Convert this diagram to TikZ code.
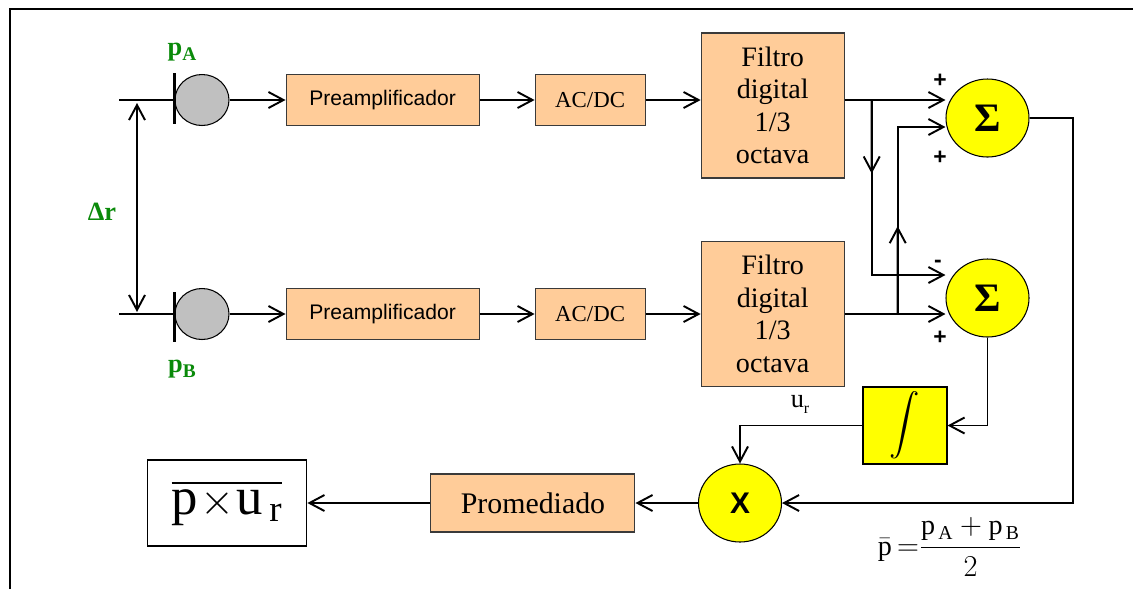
\documentclass[tikz,border=0pt]{standalone}
\usepackage{amsmath}
\usepackage{fontspec}
\setmainfont{Liberation Serif}
\setsansfont{Liberation Sans}
\usepackage{tikz}
\usetikzlibrary{arrows.meta,positioning,shapes.geometric,calc}
\definecolor{peach}{HTML}{FFCC99}
\definecolor{sunyellow}{HTML}{FFFF00}
\definecolor{micgray}{HTML}{C0C0C0}
\definecolor{labgreen}{HTML}{0A8A0A}
\definecolor{edge}{HTML}{3A3A3A}
\newcommand{\subtxt}[1]{\raisebox{-0.45ex}{\fontsize{11}{13}\selectfont #1}}
\tikzset{
  block/.style={draw=edge,line width=0.6pt,fill=peach,align=center,
    inner sep=2pt,minimum height=10.2mm},
  preamp/.style={block,minimum width=38.6mm,font=\sffamily\fontsize{12}{14}\selectfont},
  converter/.style={block,minimum width=22mm,font=\fontsize{13}{15}\selectfont},
  filterbox/.style={block,minimum width=28.6mm,minimum height=29mm,
    font=\fontsize{16}{18.5}\selectfont},
  avgbox/.style={block,minimum width=40.8mm,minimum height=11.6mm,
    font=\fontsize{17}{20}\selectfont},
  mic/.style={ellipse,draw=black,line width=0.6pt,fill=micgray,
    minimum width=10.8mm,minimum height=10.2mm,inner sep=0pt},
  summer/.style={ellipse,draw=black,line width=0.6pt,fill=sunyellow,
    minimum width=16.6mm,minimum height=15.6mm,inner sep=0pt,
    font=\bfseries\fontsize{23}{26}\selectfont},
  integbox/.style={draw=black,line width=0.6pt,fill=sunyellow,
    minimum width=16.8mm,minimum height=15.4mm,inner sep=0pt},
  resultbox/.style={draw=black,line width=1pt,minimum width=31.8mm,
    minimum height=17.2mm,inner sep=0pt,font=\fontsize{30}{34}\selectfont},
  micbar/.style={line width=2pt},
  arrow/.style={-{Straight Barb[length=3mm,width=3.2mm]},line width=1.1pt},
  dblarrow/.style={{Straight Barb[length=3mm,width=3.2mm]}-{Straight Barb[length=3mm,width=3.2mm]},line width=1.1pt},
  greenlab/.style={text=labgreen,font=\bfseries\fontsize{15}{18}\selectfont},
  sign/.style={font=\sffamily\bfseries\fontsize{13}{15}\selectfont,inner sep=0pt}
}
\begin{document}
\begin{tikzpicture}[x=0.2mm,y=-0.2mm]
  \useasboundingbox (0,0) rectangle (1133,589);
  % frame
  \coordinate (frTL) at (10,9);
  \coordinate (frTR) at (1133,9);
  \coordinate (frBL) at (10,589);
  \draw[line width=1.2pt] (frBL) -- (frTL) -- (frTR);
  % channel A
  \node[mic] (micA) at (202,100) {};
  \node[preamp,right=11.2mm of micA] (preampA) {Preamplificador};
  \node[converter,right=11mm of preampA] (acdcA) {AC/DC};
  \node[filterbox,right=11mm of acdcA,yshift=-1.1mm] (filtA) {Filtro\\digital\\1/3\\octava};
  % channel B
  \node[mic] (micB) at (202,314) {};
  \node[preamp,right=11.2mm of micB] (preampB) {Preamplificador};
  \node[converter,right=11mm of preampB] (acdcB) {AC/DC};
  \node[filterbox,right=11mm of acdcB] (filtB) {Filtro\\digital\\1/3\\octava};
  % sums, integrator, product
  \node[summer] (sum1) at (987.5,118) {Σ};
  \node[summer] (sum2) at (987.5,298) {Σ};
  \node[integbox] (integ) at (905,425.5) {\fontsize{16}{18}\selectfont$\displaystyle\int$};
  \node[summer,font=\sffamily\bfseries\fontsize{17}{20}\selectfont] (mult) at (740,503) {X};
  \node[avgbox,left=12.5mm of mult] (promed) {Promediado};
  \node[resultbox,left=24.6mm of promed] (result)
    {$\overline{\mathrm{p}\!\times\!\mathrm{u}_{\,\mathrm{r}}}$};
  % labels
  \node[greenlab] (pA) at (182,52) {p\subtxt{A}};
  \node[greenlab] (pB) at (182,369) {p\subtxt{B}};
  \node[greenlab] (dr) at (102,212) {Δr};
  \node[sign] (s1) at (940,81) {+};
  \node[sign] (s2) at (940,158) {+};
  \node[sign] (s3) at (938,264) {-};
  \node[sign] (s4) at (940,338) {+};
  \node[font=\fontsize{15}{17}\selectfont] (ur) at (800,404) {u\raisebox{-0.5ex}{\fontsize{9}{10}\selectfont r}};
  \node[font=\fontsize{16}{19}\selectfont] (pbar) at (950,547)
    {$\bar{\mathrm{p}}\,{=}\dfrac{\mathrm{p}_{\,\mathrm{A}}+\mathrm{p}_{\,\mathrm{B}}}{2}$};
  % microphones
  \coordinate (inA) at (119,100);
  \coordinate (inB) at (119,314);
  \draw[line width=0.6pt] (inA) -- (micA.west);
  \draw[line width=0.6pt] (inB) -- (micB.west);
  \draw[micbar] ([yshift=5.4mm]micA.west) -- ([yshift=-4.8mm]micA.west);
  \draw[micbar] ([yshift=4.4mm]micB.west) -- ([yshift=-5.6mm]micB.west);
  \coordinate (drT) at (137,103);
  \coordinate (drB) at (137,312);
  \draw[dblarrow] (drT) -- (drB);
  % signal chain
  \draw[arrow] (micA) -- (preampA);
  \draw[arrow] (preampA) -- (acdcA);
  \draw[arrow] (acdcA) -- (acdcA -| filtA.west);
  \draw[arrow] (micB) -- (preampB);
  \draw[arrow] (preampB) -- (acdcB);
  \draw[arrow] (acdcB) -- (filtB);
  % into the summers
  \coordinate (outA) at (filtA.east |- micA);
  \coordinate (brA) at ([xshift=5.4mm]outA);
  \coordinate (brB) at ([xshift=10.6mm]filtB.east);
  \coordinate (inS1) at ([yshift=-1.8mm]sum1.west);
  \coordinate (inS2) at ([yshift=4.6mm]sum2.west);
  \draw[arrow] (outA) -- (outA -| sum1.west);
  \draw[arrow] (filtB.east) -- (filtB.east -| sum2.west);
  \draw[arrow] (brA) -- (brA |- inS2) -- (inS2);
  \draw[arrow] (brA) -- ($(brA)!0.42!(brA |- inS2)$);
  \draw[arrow] (brB) -- (brB |- inS1) -- (inS1);
  \draw[arrow] (brB) -- ($(brB)!0.47!(brB |- inS1)$);
  % outputs
  \coordinate (rt) at ([xshift=8.6mm]sum1.east);
  \draw[arrow] (sum1.east) -- (rt) -- (rt |- mult) -- (mult.east);
  \draw[arrow] (sum2.south) -- (sum2.south |- integ) -- (integ.east);
  \draw[arrow] (integ.west) -- (integ.west -| mult) -- (mult.north);
  \draw[arrow] (mult.west) -- (promed.east);
  \draw[arrow] (promed.west) -- (result.east);
\end{tikzpicture}
\end{document}
